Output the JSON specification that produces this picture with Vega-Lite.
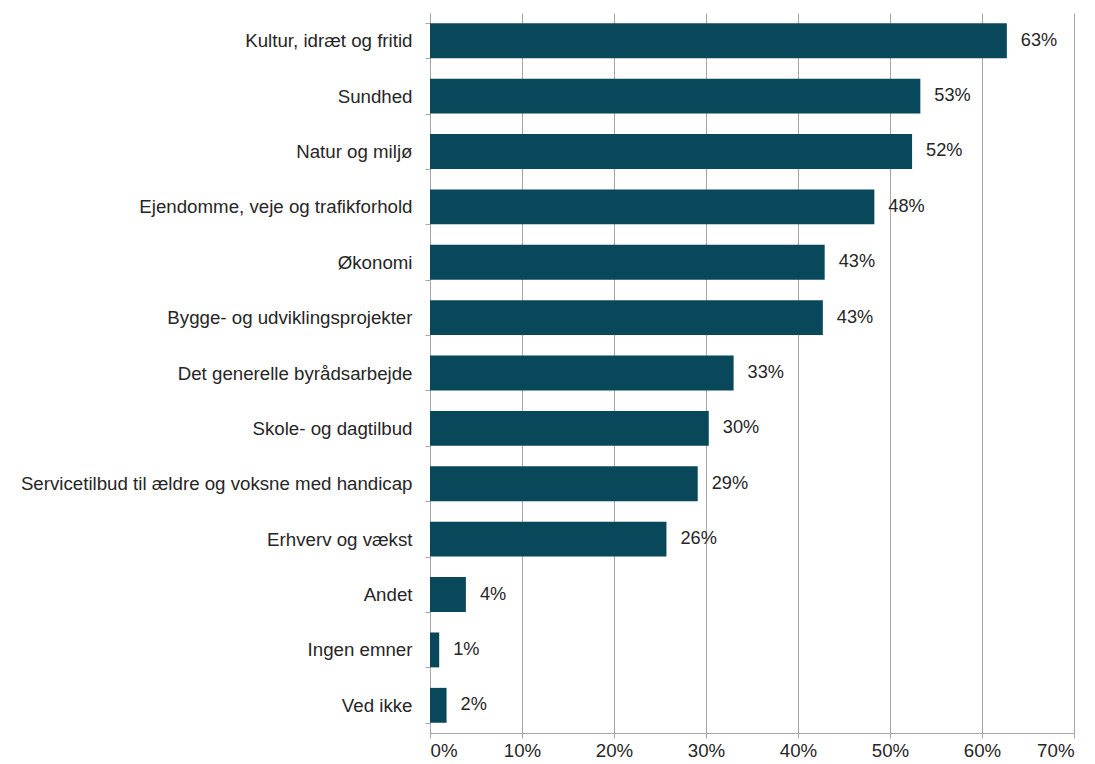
{
  "$schema": "https://vega.github.io/schema/vega-lite/v6.json",
  "width": 644,
  "height": 720,
  "autosize": "none",
  "padding": {"left": 430, "top": 13, "right": 21, "bottom": 31},
  "background": "white",
  "config": {"view": {"stroke": null}, "font": "Liberation Sans"},
  "data": {"values": [
    {"emne": "Kultur, idræt og fritid", "andel": 0.627},
    {"emne": "Sundhed", "andel": 0.533},
    {"emne": "Natur og miljø", "andel": 0.524},
    {"emne": "Ejendomme, veje og trafikforhold", "andel": 0.483},
    {"emne": "Økonomi", "andel": 0.429},
    {"emne": "Bygge- og udviklingsprojekter", "andel": 0.427},
    {"emne": "Det generelle byrådsarbejde", "andel": 0.330},
    {"emne": "Skole- og dagtilbud", "andel": 0.303},
    {"emne": "Servicetilbud til ældre og voksne med handicap", "andel": 0.291},
    {"emne": "Erhverv og vækst", "andel": 0.257},
    {"emne": "Andet", "andel": 0.039},
    {"emne": "Ingen emner", "andel": 0.010},
    {"emne": "Ved ikke", "andel": 0.018}
  ]},
  "encoding": {
    "y": {"field": "emne", "type": "nominal", "sort": null,
      "scale": {"paddingInner": 0.37, "paddingOuter": 0.185},
      "axis": {"title": null, "domainColor": "#a6a6a6", "tickColor": "#a6a6a6", "tickSize": 5, "tickBand": "extent",
        "labelFontSize": 18.7, "labelColor": "#262626", "labelPadding": 13, "labelLimit": 440}},
    "x": {"field": "andel", "type": "quantitative",
      "scale": {"domain": [0, 0.7], "nice": false},
      "axis": {"title": null, "format": ".0%", "values": [0, 0.1, 0.2, 0.3, 0.4, 0.5, 0.6, 0.7],
        "grid": true, "gridColor": "#a6a6a6", "domainColor": "#a6a6a6", "tickColor": "#a6a6a6", "tickSize": 5,
        "labelFontSize": 18.7, "labelColor": "#262626", "labelPadding": 3}}
  },
  "layer": [
    {"mark": {"type": "bar", "color": "#08485a"}},
    {"mark": {"type": "text", "align": "left", "baseline": "middle", "dx": 14, "fontSize": 18.2, "color": "#262626"},
      "encoding": {"text": {"field": "andel", "type": "quantitative", "format": ".0%"}}}
  ]
}
